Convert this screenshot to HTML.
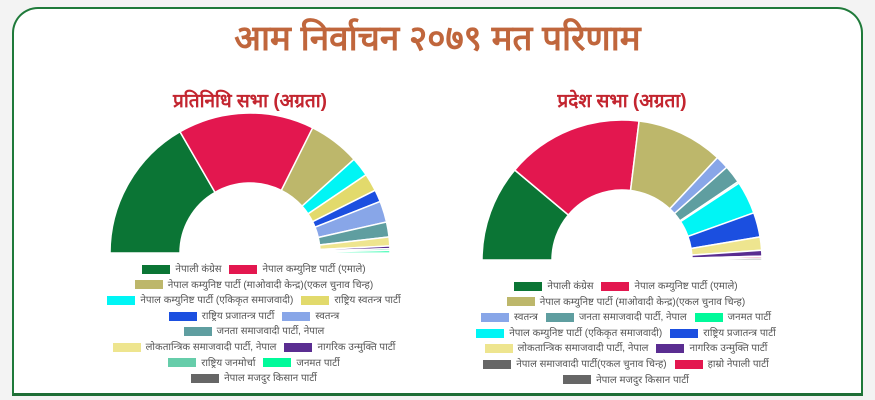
<!DOCTYPE html>
<html><head><meta charset="utf-8"><style>
body{margin:0;width:875px;height:400px;background:#f3f3f3;overflow:hidden;font-family:"Liberation Sans","DejaVu Sans",sans-serif}
.card{position:absolute;left:12px;top:7px;width:847px;height:384px;background:#fff;border:2px solid #1f7a3a;border-radius:26px;border-bottom-left-radius:0;border-bottom-right-radius:0;border-bottom:3px solid #1f6e36}
.t{position:absolute;left:0;width:875px;text-align:center;top:14px;font-size:35px;font-weight:bold;color:#c0663c}
.st{position:absolute;font-size:19px;font-weight:bold;color:#c3252f;text-align:center;width:300px}
.lg{position:absolute;width:340px;font-size:10px;color:#555;text-align:center}
.row{height:15.6px;line-height:15.6px;white-space:nowrap}
.sw{display:inline-block;width:28px;height:9px;vertical-align:middle;margin:0 5px 0 8px}
</style></head><body>
<div class="card"></div>
<div class="t">आम निर्वाचन २०७९ मत परिणाम</div>
<div class="st" style="left:100px;top:87px">प्रतिनिधि सभा (अग्रता)</div>
<div class="st" style="left:472px;top:87px">प्रदेश सभा (अग्रता)</div>
<svg id="s" width="875" height="400" style="position:absolute;left:0;top:0"></svg>
<div class="lg" style="left:80px;top:262px">
<div class="row"><span class="sw" style="background:#0b7535"></span>नेपाली कंग्रेस<span class="sw" style="background:#e3174f"></span>नेपाल कम्युनिष्ट पार्टी (एमाले)</div>
<div class="row"><span class="sw" style="background:#bdb76b"></span>नेपाल कम्युनिष्ट पार्टी (माओवादी केन्द्र)(एकल चुनाव चिन्ह)</div>
<div class="row"><span class="sw" style="background:#00f5f5"></span>नेपाल कम्युनिष्ट पार्टी (एकिकृत समाजवादी)<span class="sw" style="background:#e2da6c"></span>राष्ट्रिय स्वतन्त्र पार्टी</div>
<div class="row"><span class="sw" style="background:#1b4fe0"></span>राष्ट्रिय प्रजातन्त्र पार्टी<span class="sw" style="background:#88a6e8"></span>स्वतन्त्र</div>
<div class="row"><span class="sw" style="background:#5f9ea0"></span>जनता समाजवादी पार्टी, नेपाल</div>
<div class="row"><span class="sw" style="background:#eee58f"></span>लोकतान्त्रिक समाजवादी पार्टी, नेपाल<span class="sw" style="background:#5a2d91"></span>नागरिक उन्मुक्ति पार्टी</div>
<div class="row"><span class="sw" style="background:#66cdaa"></span>राष्ट्रिय जनमोर्चा<span class="sw" style="background:#00fa9a"></span>जनमत पार्टी</div>
<div class="row"><span class="sw" style="background:#666"></span>नेपाल मजदुर किसान पार्टी</div>
</div>
<div class="lg" style="left:452px;top:279px">
<div class="row"><span class="sw" style="background:#0b7535"></span>नेपाली कंग्रेस<span class="sw" style="background:#e3174f"></span>नेपाल कम्युनिष्ट पार्टी (एमाले)</div>
<div class="row"><span class="sw" style="background:#bdb76b"></span>नेपाल कम्युनिष्ट पार्टी (माओवादी केन्द्र)(एकल चुनाव चिन्ह)</div>
<div class="row"><span class="sw" style="background:#88a6e8"></span>स्वतन्त्र<span class="sw" style="background:#5f9ea0"></span>जनता समाजवादी पार्टी, नेपाल<span class="sw" style="background:#00fa9a"></span>जनमत पार्टी</div>
<div class="row"><span class="sw" style="background:#00f5f5"></span>नेपाल कम्युनिष्ट पार्टी (एकिकृत समाजवादी)<span class="sw" style="background:#1b4fe0"></span>राष्ट्रिय प्रजातन्त्र पार्टी</div>
<div class="row"><span class="sw" style="background:#eee58f"></span>लोकतान्त्रिक समाजवादी पार्टी, नेपाल<span class="sw" style="background:#5a2d91"></span>नागरिक उन्मुक्ति पार्टी</div>
<div class="row"><span class="sw" style="background:#666"></span>नेपाल समाजवादी पार्टी(एकल चुनाव चिन्ह)<span class="sw" style="background:#e3174f"></span>हाम्रो नेपाली पार्टी</div>
<div class="row"><span class="sw" style="background:#666"></span>नेपाल मजदुर किसान पार्टी</div>
</div>
<script>
var s=document.getElementById('s'),NS='http://www.w3.org/2000/svg';
function donut(cx,cy,R,r,segs){
 for(var i=0;i<segs.length-1;i++){
  var a1=segs[i][0]*Math.PI/180,a2=segs[i+1][0]*Math.PI/180;
  var p=function(rad,a){return (cx+rad*Math.cos(a)).toFixed(2)+','+(cy-rad*Math.sin(a)).toFixed(2)};
  var d='M'+p(R,a1)+'A'+R+','+R+' 0 0 1 '+p(R,a2)+'L'+p(r,a2)+'A'+r+','+r+' 0 0 0 '+p(r,a1)+'Z';
  var e=document.createElementNS(NS,'path');e.setAttribute('d',d);e.setAttribute('fill',segs[i][1]);
  e.setAttribute('stroke','#fff');e.setAttribute('stroke-width','1.5');s.appendChild(e);
 }
}
donut(250,253,140,70,[[180,'#0b7535'],[120,'#e3174f'],[63.4,'#bdb76b'],[42,'#00f5f5'],[34,'#e2da6c'],[26.6,'#1b4fe0'],[21.6,'#88a6e8'],[12.8,'#5f9ea0'],[6.6,'#eee58f'],[2.9,'#5a2d91'],[1.8,'#66cdaa'],[1,'#00fa9a'],[0,'']]);
donut(622,260,140,70,[[180,'#0b7535'],[140,'#e3174f'],[83,'#bdb76b'],[47,'#88a6e8'],[41.5,'#5f9ea0'],[34,'#00fa9a'],[33.3,'#00f5f5'],[19.7,'#1b4fe0'],[9.5,'#eee58f'],[4,'#5a2d91'],[1.6,'#e3174f'],[0.8,'#666'],[0,'']]);
</script>
</body></html>
